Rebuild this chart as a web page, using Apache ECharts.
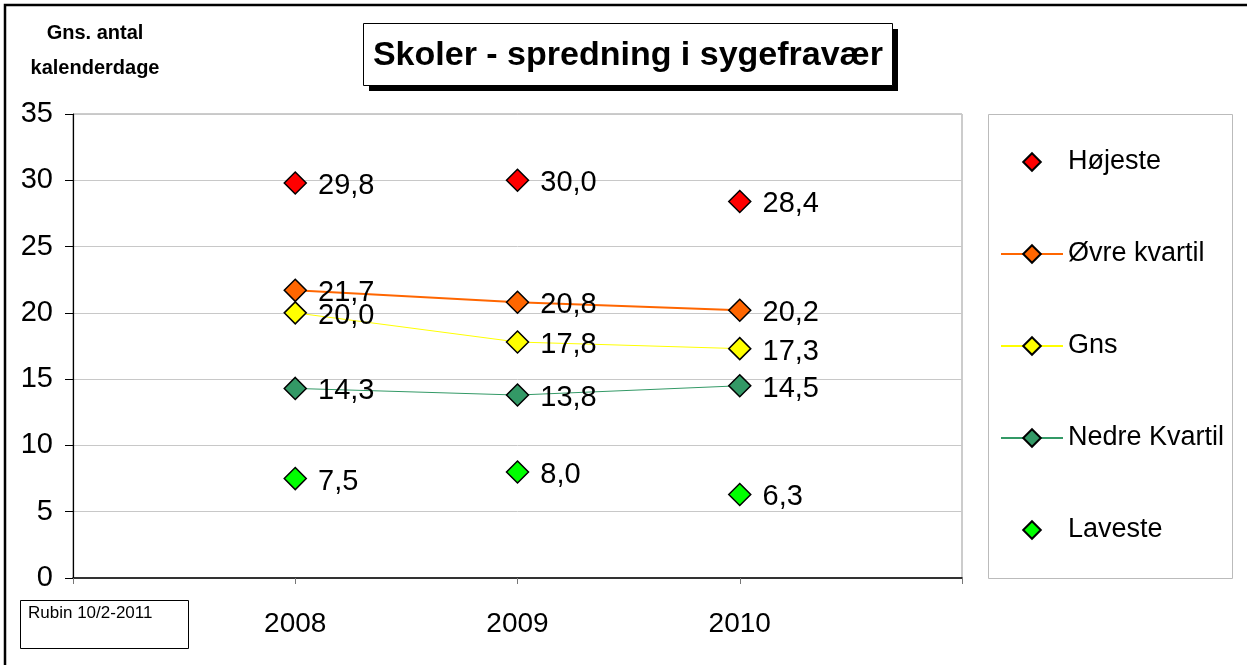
<!DOCTYPE html>
<html>
<head>
<meta charset="utf-8">
<script src="https://cdn.jsdelivr.net/npm/echarts@6/dist/echarts.min.js"></script>
<style>
  html, body { margin: 0; padding: 0; background: #fff; }
  #myChart { width: 1247px; height: 665px; }
</style>
</head>
<body>
<div id="myChart"></div>
<script>
// data
var years = [2008, 2009, 2010];
var hojeste = [29.8, 30.0, 28.4];
var ovreKvartil = [21.7, 20.8, 20.2];
var gns = [20.0, 17.8, 17.3];
var nedreKvartil = [14.3, 13.8, 14.5];
var laveste = [7.5, 8.0, 6.3];

var FONT = '"Liberation Sans", Arial, sans-serif';

function pairs(vals) {
    return years.map(function (y, i) { return [y, vals[i]]; });
}

function label() {
    return {
        show: true,
        position: 'right',
        distance: 11,
        offset: [0, 3],
        color: '#000',
        fontFamily: FONT,
        fontSize: 29,
        formatter: function (p) { return p.value[1].toFixed(1).replace('.', ','); }
    };
}

// lineWidth 0 -> markers only (no connecting line)
function makeSeries(name, vals, color, lineWidth) {
    return {
        name: name,
        type: 'line',
        data: pairs(vals),
        symbol: 'diamond',
        symbolSize: 22,
        showSymbol: true,
        itemStyle: { color: color, borderColor: '#000', borderWidth: 1.5, opacity: 1 },
        lineStyle: lineWidth ? { color: color, width: lineWidth } : { width: 0, opacity: 0 },
        label: label()
    };
}

var myChart = echarts.init(document.getElementById('myChart'), null, { renderer: 'canvas' });

myChart.setOption({
    animation: false,
    textStyle: { fontFamily: FONT },
    grid: {
        left: 73, right: 285, top: 114, bottom: 87,
        show: true, borderColor: '#999', borderWidth: 1
    },
    xAxis: {
        type: 'value',
        min: 2007, max: 2011, interval: 1,
        axisLine: { lineStyle: { color: '#000', width: 1.5 } },
        axisTick: { show: true, length: 6, lineStyle: { color: '#777' } },
        splitLine: { show: false },
        axisLabel: {
            margin: 32,
            fontSize: 28, color: '#000',
            formatter: function (v) { return years.indexOf(v) >= 0 ? String(v) : ''; }
        }
    },
    yAxis: {
        type: 'value',
        min: 0, max: 35, interval: 5,
        axisLine: { show: true, lineStyle: { color: '#000', width: 1.2 } },
        axisTick: { show: true, length: 8, inside: false, lineStyle: { color: '#000' } },
        splitLine: { show: true, lineStyle: { color: '#c8c8c8', width: 1 } },
        axisLabel: { margin: 20, fontSize: 29, color: '#000' }
    },
    legend: {
        orient: 'vertical',
        left: 995, top: 143,
        itemWidth: 62, itemHeight: 22, itemGap: 64,
        textStyle: { fontSize: 27, color: '#000', lineHeight: 28 },
        data: ['Højeste', 'Øvre kvartil', 'Gns', 'Nedre Kvartil', 'Laveste']
    },
    graphic: [
        // outer frame
        { type: 'rect', shape: { x: 5, y: 5, width: 1400, height: 800 },
          style: { fill: null, stroke: '#000', lineWidth: 2.5 }, silent: true },
        // legend box
        { type: 'rect', shape: { x: 988.5, y: 114.5, width: 244, height: 464 },
          style: { fill: null, stroke: '#bbb', lineWidth: 1 }, silent: true },
        // title shadow + box
        { type: 'rect', shape: { x: 369, y: 29, width: 529, height: 62 },
          style: { fill: '#000' }, silent: true },
        { type: 'rect', shape: { x: 363.5, y: 23.5, width: 529, height: 62 },
          style: { fill: '#fff', stroke: '#000', lineWidth: 1 }, silent: true },
        { type: 'text', x: 628, y: 56,
          style: { text: 'Skoler - spredning i sygefravær', fill: '#000',
                   font: 'bold 34px ' + FONT, align: 'center', verticalAlign: 'middle' } },
        // y axis name
        { type: 'text', x: 95, y: 51,
          style: { text: 'Gns. antal\nkalenderdage', fill: '#000', lineHeight: 35,
                   font: 'bold 20px ' + FONT, align: 'center', verticalAlign: 'middle' } },
        // Rubin note
        { type: 'rect', shape: { x: 20.5, y: 600.5, width: 168, height: 48 },
          style: { fill: '#fff', stroke: '#000', lineWidth: 1 }, silent: true },
        { type: 'text', x: 28, y: 605,
          style: { text: 'Rubin 10/2-2011', fill: '#000', font: '17px ' + FONT,
                   align: 'left', verticalAlign: 'top' } }
    ],
    series: [
        makeSeries('Højeste', hojeste, '#ff0000', 0),
        makeSeries('Øvre kvartil', ovreKvartil, '#ff6600', 2),
        makeSeries('Gns', gns, '#ffff00', 1),
        makeSeries('Nedre Kvartil', nedreKvartil, '#339966', 1),
        makeSeries('Laveste', laveste, '#00ff00', 0)
    ]
});
</script>
</body>
</html>
